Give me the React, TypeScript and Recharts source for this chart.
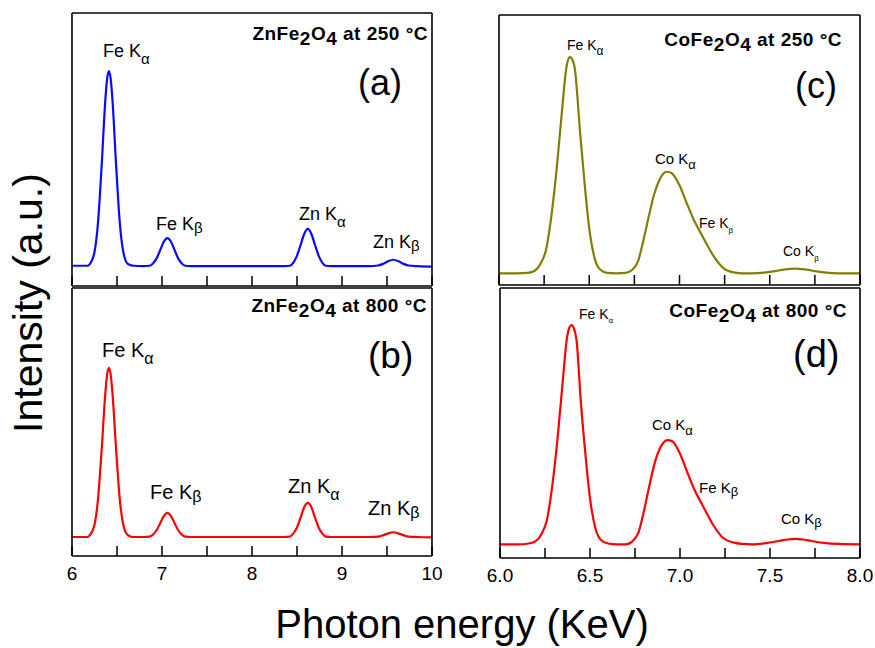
import React from 'react';
import { LineChart, Line, XAxis, YAxis } from 'recharts';

// energy (keV), intensity (a.u., in units of one y tick)
const znFe250: [number, number][] = [
  [6.0, 0.44], [6.1, 0.44], [6.17, 0.44], [6.2, 0.48], [6.25, 0.74], [6.29, 1.4], [6.33, 2.63],
  [6.37, 4.03], [6.39, 4.5], [6.41, 4.67], [6.43, 4.5], [6.45, 4.03], [6.49, 2.63], [6.53, 1.4],
  [6.57, 0.74], [6.62, 0.48], [6.68, 0.44], [6.8, 0.43], [6.86, 0.44], [6.9, 0.49], [6.94, 0.6],
  [6.98, 0.78], [7.02, 0.96], [7.06, 1.04], [7.1, 0.96], [7.14, 0.78], [7.18, 0.6], [7.22, 0.49],
  [7.26, 0.44], [7.32, 0.43], [7.6, 0.43], [8.0, 0.43], [8.36, 0.43], [8.42, 0.44], [8.46, 0.51],
  [8.5, 0.66], [8.54, 0.89], [8.58, 1.13], [8.62, 1.24], [8.66, 1.13], [8.7, 0.89], [8.74, 0.66],
  [8.78, 0.51], [8.82, 0.44], [8.88, 0.43], [9.1, 0.43], [9.3, 0.43], [9.4, 0.445], [9.45, 0.475],
  [9.5, 0.525], [9.57, 0.57], [9.64, 0.525], [9.69, 0.475], [9.74, 0.445], [9.84, 0.43], [10.0, 0.42],
];

const znFe800: [number, number][] = [
  [6.0, 0.48], [6.1, 0.48], [6.17, 0.48], [6.2, 0.53], [6.25, 0.79], [6.29, 1.46], [6.33, 2.7],
  [6.37, 4.1], [6.39, 4.58], [6.41, 4.75], [6.43, 4.58], [6.45, 4.1], [6.49, 2.7], [6.53, 1.46],
  [6.57, 0.79], [6.62, 0.53], [6.68, 0.48], [6.8, 0.48], [6.86, 0.49], [6.9, 0.54], [6.94, 0.65],
  [6.98, 0.83], [7.02, 1.01], [7.06, 1.09], [7.1, 1.01], [7.14, 0.83], [7.18, 0.65], [7.22, 0.54],
  [7.26, 0.49], [7.32, 0.48], [7.6, 0.48], [8.0, 0.48], [8.36, 0.48], [8.42, 0.49], [8.46, 0.57],
  [8.5, 0.72], [8.54, 0.97], [8.58, 1.23], [8.62, 1.34], [8.66, 1.23], [8.7, 0.97], [8.74, 0.72],
  [8.78, 0.57], [8.82, 0.49], [8.88, 0.48], [9.1, 0.48], [9.3, 0.48], [9.4, 0.49], [9.45, 0.52],
  [9.5, 0.56], [9.57, 0.6], [9.64, 0.56], [9.69, 0.52], [9.74, 0.49], [9.84, 0.48], [10.0, 0.47],
];

const coFe250: [number, number][] = [
  [6.0, 0.02], [6.1, 0.02], [6.16, 0.03], [6.2, 0.08], [6.23, 0.22], [6.26, 0.5], [6.29, 1.2],
  [6.32, 2.2], [6.35, 3.42], [6.37, 4.18], [6.38, 4.4], [6.393, 4.49], [6.405, 4.45], [6.42, 4.25],
  [6.45, 2.9], [6.475, 1.85], [6.5, 0.95], [6.53, 0.33], [6.56, 0.1], [6.6, 0.03], [6.65, 0.02],
  [6.7, 0.03], [6.74, 0.1], [6.77, 0.27], [6.8, 0.7], [6.83, 1.2], [6.86, 1.66], [6.89, 1.96],
  [6.91, 2.08], [6.93, 2.12], [6.957, 2.09], [7.0, 1.84], [7.04, 1.47], [7.085, 1.08], [7.12, 0.84],
  [7.15, 0.63], [7.19, 0.37], [7.24, 0.14], [7.3, 0.04], [7.35, 0.02], [7.4, 0.02], [7.48, 0.04],
  [7.55, 0.08], [7.6, 0.11], [7.64, 0.12], [7.68, 0.11], [7.73, 0.08], [7.8, 0.04], [7.88, 0.02],
  [8.0, 0.02],
];

const coFe800: [number, number][] = [
  [6.0, 0.0], [6.1, 0.0], [6.16, 0.02], [6.2, 0.08], [6.23, 0.24], [6.26, 0.56], [6.29, 1.36],
  [6.32, 2.5], [6.35, 3.9], [6.37, 4.78], [6.38, 5.02], [6.397, 5.15], [6.41, 5.08], [6.425, 4.8],
  [6.45, 3.3], [6.475, 2.1], [6.5, 1.08], [6.53, 0.38], [6.56, 0.11], [6.6, 0.02], [6.65, 0.0],
  [6.7, 0.0], [6.74, 0.09], [6.77, 0.29], [6.8, 0.79], [6.83, 1.38], [6.86, 1.92], [6.89, 2.27],
  [6.91, 2.4], [6.93, 2.45], [6.957, 2.42], [7.0, 2.13], [7.04, 1.7], [7.085, 1.24], [7.12, 0.96],
  [7.15, 0.72], [7.19, 0.42], [7.24, 0.15], [7.3, 0.04], [7.35, 0.01], [7.4, 0.0], [7.48, 0.03],
  [7.55, 0.08], [7.6, 0.115], [7.64, 0.13], [7.68, 0.115], [7.73, 0.08], [7.8, 0.035], [7.88, 0.01],
  [8.0, 0.0],
];

const xTicksZn = [6, 6.5, 7, 7.5, 8, 8.5, 9, 9.5, 10];
const xTicksCo = [6, 6.25, 6.5, 6.75, 7, 7.25, 7.5, 7.75, 8];
const yTicksA = [1, 2, 3, 4, 5];
const yTicksB = [1, 2, 3, 4, 5, 6];
const yTicksC = [0, 1, 2, 3, 4, 5];
const yTicksD = [0, 1, 2, 3, 4, 5];

const FONT = '"Liberation Sans", Arial, Helvetica, sans-serif';
const PAD_X = 30;
const PAD_Y = 10;
const AXIS_H = 34;
const axisStyle = { stroke: '#000', strokeWidth: 1.6 };

type PanelProps = {
  left: number;
  top: number;
  width: number;
  height: number;
  points: [number, number][];
  color: string;
  xDomain: [number, number];
  xTicks: number[];
  yDomain: [number, number];
  yTicks: number[];
  labelled: boolean;
  labelStep: number;
  fmt: (v: number) => string;
};

const Panel = ({ left, top, width, height, points, color, xDomain, xTicks, yDomain, yTicks, labelled, labelStep, fmt }: PanelProps) => {
  const data = points.map(([e, v]) => ({ e, v }));

  // inward tick marks, labels hang below the axis
  const renderTick = (p: any) => {
    const value = p.payload.value;
    const major = Math.abs(value / labelStep - Math.round(value / labelStep)) < 1e-6;
    return (
      <g>
        <line x1={p.x} x2={p.x} y1={p.y} y2={p.y - 10} stroke="#000" strokeWidth={1.5} />
        {labelled && major && (
          <text x={p.x} y={p.y + 24} textAnchor="middle" fontSize={19} fontFamily={FONT} fill="#000">
            {fmt(value)}
          </text>
        )}
      </g>
    );
  };

  return (
    <div style={{ position: 'absolute', left: left - PAD_X, top: top - PAD_Y }}>
      <LineChart
        width={width + 2 * PAD_X}
        height={height + 2 * PAD_Y + AXIS_H}
        data={data}
        margin={{ top: PAD_Y, right: PAD_X, bottom: PAD_Y, left: PAD_X }}
      >
        <XAxis
          xAxisId="bottom"
          dataKey="e"
          type="number"
          domain={xDomain}
          ticks={xTicks}
          allowDataOverflow
          interval={0}
          height={AXIS_H}
          tickSize={0}
          tickMargin={0}
          tickLine={false}
          axisLine={axisStyle}
          tick={renderTick}
        />
        <XAxis
          xAxisId="top"
          orientation="top"
          mirror
          type="number"
          domain={xDomain}
          ticks={xDomain}
          allowDataOverflow
          tick={false}
          tickLine={false}
          axisLine={axisStyle}
        />
        <YAxis
          yAxisId="left"
          mirror
          type="number"
          domain={yDomain}
          ticks={yTicks}
          allowDataOverflow
          interval={0}
          tick={false}
          tickSize={8}
          tickLine={{ stroke: '#000', strokeWidth: 1.5 }}
          axisLine={axisStyle}
        />
        <YAxis
          yAxisId="right"
          orientation="right"
          mirror
          type="number"
          domain={yDomain}
          ticks={yTicks}
          allowDataOverflow
          tick={false}
          tickLine={false}
          axisLine={axisStyle}
        />
        <Line
          xAxisId="bottom"
          yAxisId="left"
          type="monotone"
          dataKey="v"
          stroke={color}
          strokeWidth={2.2}
          dot={false}
          isAnimationActive={false}
        />
      </LineChart>
    </div>
  );
};

const Formula = ({ x, y, metal, temp }: { x: number; y: number; metal: string; temp: number }) => (
  <text x={x} y={y} textAnchor="end" fontWeight="bold" fontSize={19} letterSpacing={0.5} style={{ whiteSpace: 'pre' }}>
    {metal}Fe<tspan dy={5}>2</tspan>
    <tspan dy={-5}>O</tspan>
    <tspan dy={5}>4</tspan>
    <tspan dy={-5}>{` at ${temp} °C`}</tspan>
  </text>
);

const Peak = ({ x, y, name, sub, size, subSize, subDy }: { x: number; y: number; name: string; sub: string; size: number; subSize: number; subDy: number }) => (
  <text x={x} y={y} fontSize={size} style={{ whiteSpace: 'pre' }}>
    {`${name} K`}
    <tspan fontSize={subSize} dy={subDy}>{sub}</tspan>
  </text>
);

const App = () => {
  return (
    <div style={{ position: 'absolute', left: 0, top: 0, width: 875, height: 648, background: '#fff', fontFamily: FONT, overflow: 'hidden' }}>
      <Panel left={72} top={13} width={360} height={273} points={znFe250} color="#0a0aff"
        xDomain={[6, 10]} xTicks={xTicksZn} yDomain={[0, 5.93]} yTicks={yTicksA} labelled={false} labelStep={1} fmt={(v) => String(v)} />
      <Panel left={72} top={288} width={360} height={268} points={znFe800} color="#ff0000"
        xDomain={[6, 10]} xTicks={xTicksZn} yDomain={[0, 6.77]} yTicks={yTicksB} labelled labelStep={1} fmt={(v) => String(v)} />
      <Panel left={499} top={15} width={361} height={270} points={coFe250} color="#808000"
        xDomain={[6, 8]} xTicks={xTicksCo} yDomain={[-0.22, 5.36]} yTicks={yTicksC} labelled={false} labelStep={0.5} fmt={(v) => v.toFixed(1)} />
      <Panel left={500} top={288} width={360} height={270} points={coFe800} color="#ff0000"
        xDomain={[6, 8]} xTicks={xTicksCo} yDomain={[-0.32, 6.02]} yTicks={yTicksD} labelled labelStep={0.5} fmt={(v) => v.toFixed(1)} />

      <svg width={875} height={648} style={{ position: 'absolute', left: 0, top: 0, pointerEvents: 'none' }} fontFamily={FONT} fill="#000">
        <Formula x={428} y={40} metal="Zn" temp={250} />
        <Formula x={427} y={312} metal="Zn" temp={800} />
        <Formula x={842} y={46} metal="Co" temp={250} />
        <Formula x={847} y={317} metal="Co" temp={800} />

        <text x={358} y={95} fontSize={36}>(a)</text>
        <text x={368} y={368} fontSize={37}>(b)</text>
        <text x={795} y={98} fontSize={36}>(c)</text>
        <text x={793} y={367} fontSize={38}>(d)</text>

        <Peak x={103} y={57} name="Fe" sub="α" size={18} subSize={15} subDy={7} />
        <Peak x={156} y={230} name="Fe" sub="β" size={18} subSize={15} subDy={3} />
        <Peak x={299} y={220} name="Zn" sub="α" size={18} subSize={15} subDy={7} />
        <Peak x={373} y={248} name="Zn" sub="β" size={18} subSize={15} subDy={3} />

        <Peak x={102} y={357} name="Fe" sub="α" size={20} subSize={16} subDy={7} />
        <Peak x={150} y={499} name="Fe" sub="β" size={20} subSize={16} subDy={3} />
        <Peak x={288} y={493} name="Zn" sub="α" size={20} subSize={16} subDy={7} />
        <Peak x={368} y={515} name="Zn" sub="β" size={20} subSize={16} subDy={3} />

        <Peak x={567} y={50} name="Fe" sub="α" size={14} subSize={12} subDy={5} />
        <Peak x={655} y={164} name="Co" sub="α" size={15} subSize={13} subDy={5} />
        <Peak x={699} y={228} name="Fe" sub="β" size={14} subSize={8} subDy={5} />
        <Peak x={783} y={256} name="Co" sub="β" size={14} subSize={8} subDy={5} />

        <Peak x={579} y={319} name="Fe" sub="α" size={14} subSize={8} subDy={4} />
        <Peak x={652} y={430} name="Co" sub="α" size={15} subSize={13} subDy={5} />
        <Peak x={699} y={493} name="Fe" sub="β" size={15} subSize={13} subDy={3} />
        <Peak x={781} y={524} name="Co" sub="β" size={15} subSize={13} subDy={3} />

        <text transform="translate(42, 303) rotate(-90)" textAnchor="middle" fontSize={41}>Intensity (a.u.)</text>
        <text x={462} y={638} textAnchor="middle" fontSize={40}>Photon energy (KeV)</text>
      </svg>
    </div>
  );
};

export default App;
